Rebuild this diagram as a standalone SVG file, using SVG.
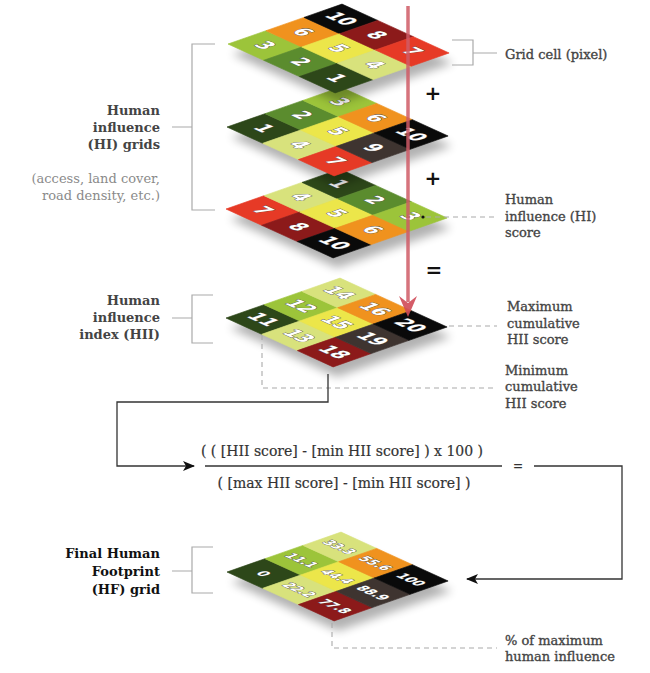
<svg xmlns="http://www.w3.org/2000/svg" width="650" height="673" viewBox="0 0 650 673">
<style>
.c1{fill:#2d4719;stroke:#2d4719}
.c2{fill:#5b8c2e;stroke:#5b8c2e}
.c3{fill:#9cc43a;stroke:#9cc43a}
.c4{fill:#d8e27c;stroke:#d8e27c}
.c5{fill:#ece64a;stroke:#ece64a}
.c6{fill:#f0921e;stroke:#f0921e}
.c7{fill:#e63a26;stroke:#e63a26}
.c8{fill:#8c1a1a;stroke:#8c1a1a}
.c9{fill:#3e3430;stroke:#3e3430}
.c10{fill:#0a0a0a;stroke:#0a0a0a}
rect{stroke-width:0.015}
.n{font-family:'DejaVu Sans Condensed','DejaVu Sans',sans-serif;font-weight:bold;font-size:10px;fill:#fff;text-anchor:middle;dominant-baseline:central;stroke:#555;stroke-width:0.5;paint-order:stroke}
.ns{font-size:6.8px}
.sh{fill:#000;opacity:0.3;filter:url(#blur)}
.lb{font-family:'DejaVu Serif',serif;font-weight:bold;font-size:13px;fill:#444;text-anchor:end}
.lg{font-family:'DejaVu Serif',serif;font-size:13px;fill:#8a8a8a;text-anchor:end}
.rl{font-family:'DejaVu Serif',serif;font-size:13px;fill:#444;stroke:#444;stroke-width:0.35}
.fm{font-family:'DejaVu Serif',serif;font-size:14px;fill:#333;text-anchor:middle;stroke:#333;stroke-width:0.2}
.op{font-family:'DejaVu Sans',sans-serif;font-weight:bold;font-size:20px;fill:#111;text-anchor:middle}
.br{fill:none;stroke:#aaa;stroke-width:1.2}
.ds{fill:none;stroke:#aaa;stroke-width:1.1;stroke-dasharray:5 4}
.ln{fill:none;stroke:#333;stroke-width:1.3}
</style>
<defs>
<filter id="blur" x="-20%" y="-20%" width="140%" height="160%"><feGaussianBlur stdDeviation="5"/></filter>
<marker id="ah" markerUnits="userSpaceOnUse" markerWidth="12" markerHeight="10" refX="11" refY="5" orient="auto"><path d="M0,0 L12,5 L0,10 L3,5 Z" fill="#111"/></marker>
</defs>

<g id="grid-hi-3">
<polygon class="sh" points="230,219 344,179 451,228 337,268"/>
<g transform="matrix(38,-13.3,35.7,16.3,226,209)">
<rect class="c7" x="0" y="0" width="1" height="1"/><rect class="c4" x="1" y="0" width="1" height="1"/><rect class="c1" x="2" y="0" width="1" height="1"/>
<rect class="c8" x="0" y="1" width="1" height="1"/><rect class="c5" x="1" y="1" width="1" height="1"/><rect class="c2" x="2" y="1" width="1" height="1"/>
<rect class="c10" x="0" y="2" width="1" height="1"/><rect class="c6" x="1" y="2" width="1" height="1"/><rect class="c3" x="2" y="2" width="1" height="1"/>
<text class="n" transform="translate(0.5,0.5) rotate(90) scale(0.05)">7</text>
<text class="n" transform="translate(1.5,0.5) rotate(90) scale(0.05)">4</text>
<text class="n" transform="translate(2.5,0.5) rotate(90) scale(0.05)">1</text>
<text class="n" transform="translate(0.5,1.5) rotate(90) scale(0.05)">8</text>
<text class="n" transform="translate(1.5,1.5) rotate(90) scale(0.05)">5</text>
<text class="n" transform="translate(2.5,1.5) rotate(90) scale(0.05)">2</text>
<text class="n" transform="translate(0.5,2.5) rotate(90) scale(0.05)">10</text>
<text class="n" transform="translate(1.5,2.5) rotate(90) scale(0.05)">6</text>
<text class="n" transform="translate(2.5,2.5) rotate(90) scale(0.05)">3</text>
</g>
</g>

<g id="grid-hi-2">
<polygon class="sh" points="231,137 345,97 452,146 338,186"/>
<g transform="matrix(38,-13.3,35.7,16.3,227,127)">
<rect class="c1" x="0" y="0" width="1" height="1"/><rect class="c2" x="1" y="0" width="1" height="1"/><rect class="c3" x="2" y="0" width="1" height="1"/>
<rect class="c4" x="0" y="1" width="1" height="1"/><rect class="c5" x="1" y="1" width="1" height="1"/><rect class="c6" x="2" y="1" width="1" height="1"/>
<rect class="c7" x="0" y="2" width="1" height="1"/><rect class="c9" x="1" y="2" width="1" height="1"/><rect class="c10" x="2" y="2" width="1" height="1"/>
<text class="n" transform="translate(0.5,0.5) rotate(90) scale(0.05)">1</text>
<text class="n" transform="translate(1.5,0.5) rotate(90) scale(0.05)">2</text>
<text class="n" transform="translate(2.5,0.5) rotate(90) scale(0.05)">3</text>
<text class="n" transform="translate(0.5,1.5) rotate(90) scale(0.05)">4</text>
<text class="n" transform="translate(1.5,1.5) rotate(90) scale(0.05)">5</text>
<text class="n" transform="translate(2.5,1.5) rotate(90) scale(0.05)">6</text>
<text class="n" transform="translate(0.5,2.5) rotate(90) scale(0.05)">7</text>
<text class="n" transform="translate(1.5,2.5) rotate(90) scale(0.05)">9</text>
<text class="n" transform="translate(2.5,2.5) rotate(90) scale(0.05)">10</text>
</g>
</g>

<g id="grid-hi-1">
<polygon class="sh" points="232,54 346,14 453,63 339,103"/>
<g transform="matrix(38,-13.3,35.7,16.3,228,44)">
<rect class="c3" x="0" y="0" width="1" height="1"/><rect class="c6" x="1" y="0" width="1" height="1"/><rect class="c10" x="2" y="0" width="1" height="1"/>
<rect class="c2" x="0" y="1" width="1" height="1"/><rect class="c5" x="1" y="1" width="1" height="1"/><rect class="c8" x="2" y="1" width="1" height="1"/>
<rect class="c1" x="0" y="2" width="1" height="1"/><rect class="c4" x="1" y="2" width="1" height="1"/><rect class="c7" x="2" y="2" width="1" height="1"/>
<text class="n" transform="translate(0.5,0.5) rotate(90) scale(0.05)">3</text>
<text class="n" transform="translate(1.5,0.5) rotate(90) scale(0.05)">6</text>
<text class="n" transform="translate(2.5,0.5) rotate(90) scale(0.05)">10</text>
<text class="n" transform="translate(0.5,1.5) rotate(90) scale(0.05)">2</text>
<text class="n" transform="translate(1.5,1.5) rotate(90) scale(0.05)">5</text>
<text class="n" transform="translate(2.5,1.5) rotate(90) scale(0.05)">8</text>
<text class="n" transform="translate(0.5,2.5) rotate(90) scale(0.05)">1</text>
<text class="n" transform="translate(1.5,2.5) rotate(90) scale(0.05)">4</text>
<text class="n" transform="translate(2.5,2.5) rotate(90) scale(0.05)">7</text>
</g>
</g>

<g id="grid-hii">
<polygon class="sh" points="230,328 344,288 451,337 337,377"/>
<g transform="matrix(38,-13.3,35.7,16.3,226,318)">
<rect class="c1" x="0" y="0" width="1" height="1"/><rect class="c3" x="1" y="0" width="1" height="1"/><rect class="c4" x="2" y="0" width="1" height="1"/>
<rect class="c4" x="0" y="1" width="1" height="1"/><rect class="c5" x="1" y="1" width="1" height="1"/><rect class="c6" x="2" y="1" width="1" height="1"/>
<rect class="c8" x="0" y="2" width="1" height="1"/><rect class="c9" x="1" y="2" width="1" height="1"/><rect class="c10" x="2" y="2" width="1" height="1"/>
<text class="n" transform="translate(0.5,0.5) rotate(90) scale(0.05)">11</text>
<text class="n" transform="translate(1.5,0.5) rotate(90) scale(0.05)">12</text>
<text class="n" transform="translate(2.5,0.5) rotate(90) scale(0.05)">14</text>
<text class="n" transform="translate(0.5,1.5) rotate(90) scale(0.05)">13</text>
<text class="n" transform="translate(1.5,1.5) rotate(90) scale(0.05)">15</text>
<text class="n" transform="translate(2.5,1.5) rotate(90) scale(0.05)">16</text>
<text class="n" transform="translate(0.5,2.5) rotate(90) scale(0.05)">18</text>
<text class="n" transform="translate(1.5,2.5) rotate(90) scale(0.05)">19</text>
<text class="n" transform="translate(2.5,2.5) rotate(90) scale(0.05)">20</text>
</g>
</g>

<g id="grid-hf">
<polygon class="sh" points="231,582 345,542 452,591 338,631"/>
<g transform="matrix(38,-13.3,35.7,16.3,227,572)">
<rect class="c1" x="0" y="0" width="1" height="1"/><rect class="c3" x="1" y="0" width="1" height="1"/><rect class="c4" x="2" y="0" width="1" height="1"/>
<rect class="c4" x="0" y="1" width="1" height="1"/><rect class="c5" x="1" y="1" width="1" height="1"/><rect class="c6" x="2" y="1" width="1" height="1"/>
<rect class="c8" x="0" y="2" width="1" height="1"/><rect class="c9" x="1" y="2" width="1" height="1"/><rect class="c10" x="2" y="2" width="1" height="1"/>
<text class="n ns" transform="translate(0.5,0.5) rotate(90) scale(0.05)">0</text>
<text class="n ns" transform="translate(1.5,0.5) rotate(90) scale(0.05)">11.1</text>
<text class="n ns" transform="translate(2.5,0.5) rotate(90) scale(0.05)">33.3</text>
<text class="n ns" transform="translate(0.5,1.5) rotate(90) scale(0.05)">22.2</text>
<text class="n ns" transform="translate(1.5,1.5) rotate(90) scale(0.05)">44.4</text>
<text class="n ns" transform="translate(2.5,1.5) rotate(90) scale(0.05)">55.6</text>
<text class="n ns" transform="translate(0.5,2.5) rotate(90) scale(0.05)">77.8</text>
<text class="n ns" transform="translate(1.5,2.5) rotate(90) scale(0.05)">88.9</text>
<text class="n ns" transform="translate(2.5,2.5) rotate(90) scale(0.05)">100</text>
</g>
</g>

<g id="connectors">
<path class="br" d="M215,44 H192 V210 H215 M172,127 H192"/>
<path class="br" d="M213,295 H192 V343 H213 M172,318 H192"/>
<path class="br" d="M213,547 H192 V593 H213 M172,571 H192"/>
<path class="br" d="M452,40 H473 V65 H452 M473,53 H497"/>
<path class="ds" d="M426,217 H497"/>
<circle cx="423" cy="217" r="1.6" fill="#111"/>
<path class="ds" d="M449,326 H497"/>
<path class="ds" d="M262,335 V388 H497"/>
<path class="ds" d="M332,623 V648 H497"/>
<path class="ln" d="M328,374 V402 H117 V466 H194" marker-end="url(#ah)"/>
<path class="ln" d="M205,466 H502"/>
<path class="ln" d="M534,466 H622 V579 H467" marker-end="url(#ah)"/>
<line x1="408" y1="6" x2="408" y2="302" stroke="#cf5b66" stroke-width="3.5" opacity="0.85"/>
<path d="M399,296 L408,317 L417,296 L408,303 Z" fill="#cf4a58" opacity="0.9"/>
</g>

<g id="labels">
<text class="lb" x="160" y="115">Human</text>
<text class="lb" x="160" y="132">influence</text>
<text class="lb" x="160" y="149">(HI) grids</text>
<text class="lg" x="160" y="183">(access, land cover,</text>
<text class="lg" x="160" y="200">road density, etc.)</text>
<text class="lb" x="160" y="305">Human</text>
<text class="lb" x="160" y="322">influence</text>
<text class="lb" x="160" y="339">index (HII)</text>
<text class="lb" x="160" y="558" style="fill:#111">Final Human</text>
<text class="lb" x="160" y="576" style="fill:#111">Footprint</text>
<text class="lb" x="160" y="594" style="fill:#111">(HF) grid</text>
<text class="rl" x="505" y="58.5">Grid cell (pixel)</text>
<text class="rl" x="505" y="204">Human</text>
<text class="rl" x="505" y="220.5">influence (HI)</text>
<text class="rl" x="505" y="237">score</text>
<text class="rl" x="507" y="311">Maximum</text>
<text class="rl" x="507" y="327.5">cumulative</text>
<text class="rl" x="507" y="344">HII score</text>
<text class="rl" x="505" y="374.5">Minimum</text>
<text class="rl" x="505" y="391">cumulative</text>
<text class="rl" x="505" y="407.5">HII score</text>
<text class="rl" x="505" y="644.5">% of maximum</text>
<text class="rl" x="505" y="661">human influence</text>
<text class="op" x="433" y="100">+</text>
<text class="op" x="433" y="185">+</text>
<text class="op" x="434" y="277">=</text>
<text class="fm" x="342" y="456">( ( [HII score] - [min HII score] ) x 100 )</text>
<text class="fm" x="344" y="488">( [max HII score] - [min HII score] )</text>
<text class="fm" x="518" y="470" style="font-size:12px">=</text>
</g>
</svg>
